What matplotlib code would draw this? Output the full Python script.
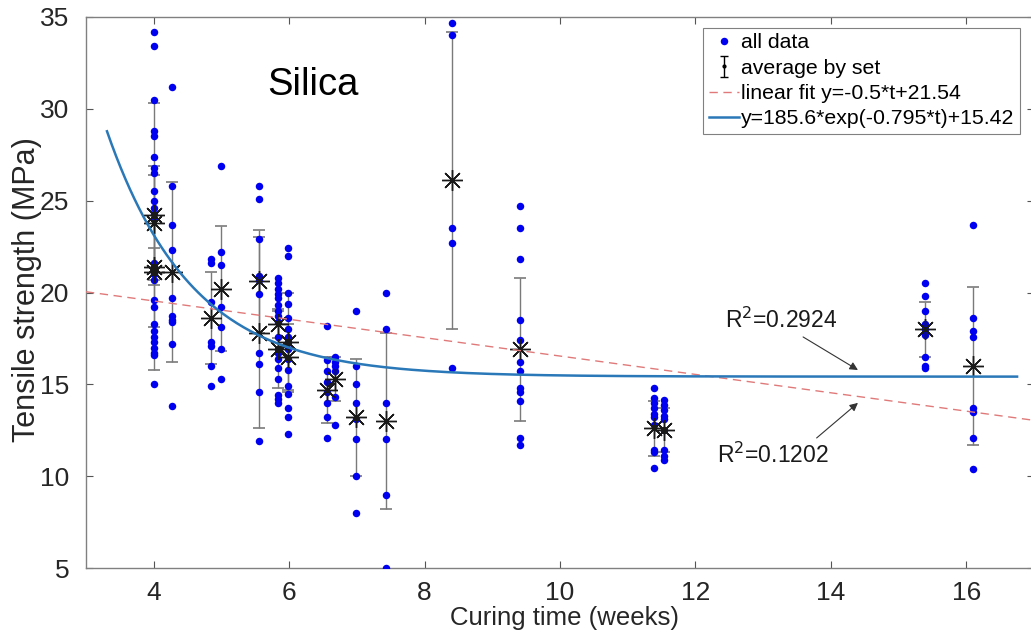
import numpy as np
import matplotlib
matplotlib.use("Agg")
import matplotlib.pyplot as plt
from matplotlib.lines import Line2D

plt.rcParams['font.family'] = ['Liberation Sans', 'DejaVu Sans']

# ---------------- data ----------------
# curing time (weeks) of each measured set and the individual strengths (MPa)
group_weeks = [4.0, 4.27, 4.84, 4.99, 5.55, 5.83, 5.98, 6.56, 6.67, 6.98,
               7.43, 8.40, 9.41, 11.39, 11.53, 15.39, 16.10]
group_values = [
    [34.2, 33.4, 30.5, 28.8, 28.5, 27.4, 26.8, 26.5, 25.5, 25.0, 24.6, 24.3, 24.0,
     21.6, 21.4, 21.2, 21.0, 20.7, 19.6, 19.2, 18.3, 17.9, 17.6, 17.3, 17.0, 16.7, 16.6, 15.0],
    [31.2, 25.8, 23.7, 22.3, 19.7, 18.7, 18.5, 18.4, 17.2, 13.8],
    [21.8, 21.6, 19.5, 17.3, 17.1, 16.0, 14.9],
    [26.9, 22.2, 21.5, 19.2, 18.1, 16.9, 15.3],
    [25.8, 25.1, 22.9, 20.9, 20.7, 19.9, 16.7, 16.1, 14.6, 11.9],
    [20.8, 20.5, 20.2, 19.9, 19.7, 19.3, 19.0, 18.7, 18.4, 17.6, 16.9, 16.7, 16.4,
     15.9, 15.3, 14.4, 14.2, 14.0],
    [22.4, 22.0, 20.0, 19.4, 18.6, 18.0, 17.6, 17.3, 16.9, 16.4, 15.8, 14.9, 14.5,
     13.7, 13.2, 12.3],
    [18.2, 16.3, 15.7, 15.1, 14.6, 14.0, 13.2, 12.1],
    [16.5, 16.2, 16.0, 15.7, 14.3, 12.8],
    [19.0, 16.0, 15.0, 14.0, 13.1, 12.0, 10.0, 8.0],
    [20.0, 18.0, 14.0, 12.0, 9.0, 5.0],
    [34.7, 34.0, 23.5, 22.7, 15.9],
    [24.7, 23.5, 21.8, 18.5, 17.4, 16.2, 15.7, 14.8, 14.6, 14.1, 12.1, 11.7],
    [14.8, 14.25, 14.0, 13.7, 13.4, 13.2, 12.8, 11.4, 11.3, 10.45],
    [14.15, 13.9, 13.6, 13.3, 13.1, 12.5, 11.4, 11.1, 10.9],
    [20.5, 19.8, 19.0, 18.3, 18.0, 17.7, 16.5, 16.0, 15.9],
    [23.7, 18.6, 17.9, 17.6, 13.7, 13.5, 12.1, 10.4],
]

# averages by set (week, mean, error)
avg_weeks = [4.0, 4.0, 4.0, 4.0, 4.27, 4.84, 4.99, 5.55, 5.55, 5.83, 5.83, 5.98, 5.98,
             6.56, 6.67, 6.98, 7.43, 8.40, 9.41, 11.39, 11.53, 15.39, 16.10]
avg_means = [24.2, 23.8, 21.4, 21.1, 21.1, 18.6, 20.2, 20.6, 17.8, 18.3, 16.9, 17.3, 16.5,
             14.7, 15.3, 13.2, 13.0, 26.1, 16.9, 12.6, 12.5, 18.0, 16.0]
avg_errs = [6.1, 3.1, 1.0, 5.3, 4.9, 2.5, 3.4, 2.8, 5.2, 0.8, 2.1, 2.7, 1.8,
            1.8, 1.2, 3.2, 4.8, 8.1, 3.9, 1.5, 1.2, 1.5, 4.3]

# fits
lin_a, lin_b = -0.5, 21.54
exp_A, exp_k, exp_c = 185.6, 0.795, 15.42
r2_exp, r2_lin = 0.2924, 0.1202

# ---------------- figure ----------------
W, H = 1031, 638
fig = plt.figure(figsize=(W / 100, H / 100), dpi=100)
ax = fig.add_axes([86 / W, 70 / H, 948 / W, 551 / H])

xs = np.concatenate([np.full(len(v), w) for w, v in zip(group_weeks, group_values)])
ys = np.concatenate([np.array(v) for v in group_values])

# error bars (grey bars, black caps)
eb = ax.errorbar(avg_weeks, avg_means, yerr=avg_errs, fmt='none', ecolor='#7a7a7a',
                 elinewidth=1.0, capsize=4, capthick=1.2, zorder=2)
for cl in eb[1]:
    cl.set_color('#222222')

ax.plot(xs, ys, 'o', color='#0000f0', markersize=5.4, markeredgewidth=0, zorder=3)
ax.plot(avg_weeks, avg_means, linestyle='none', marker=(8, 2, 0), markersize=15,
        markeredgecolor='#1a1a1a', markeredgewidth=1.0, zorder=4)

t_lin = np.linspace(3, 17, 200)
ax.plot(t_lin, lin_a * t_lin + lin_b, color='#e07a7a', lw=1.0, dashes=(6, 4), zorder=5)
t_exp = np.linspace(3.31, 16.75, 400)
ax.plot(t_exp, exp_A * np.exp(-exp_k * t_exp) + exp_c, color='#2a78b8', lw=1.8, zorder=5)

ax.set_xlim(3, 17)
ax.set_ylim(5, 35)
ax.set_xticks([4, 6, 8, 10, 12, 14, 16])
ax.set_yticks([5, 10, 15, 20, 25, 30, 35])

for s in ax.spines.values():
    s.set_color('#808080')
    s.set_linewidth(1.0)
ax.tick_params(direction='in', top=True, right=True, length=5, width=0.8,
               color='#555555', labelsize=19, labelcolor='#262626')
ax.tick_params(axis='x', pad=9)
ax.tick_params(axis='y', pad=12)

ax.set_xlabel('Curing time (weeks)', fontsize=18.5, color='#262626')
ax.xaxis.set_label_coords(0.505, -0.069)
ax.set_ylabel('Tensile strength (MPa)', fontsize=22, color='#262626')
ax.yaxis.set_label_coords(-0.046, 0.505)

ax.text(5.68, 30.75, 'Silica', fontsize=27.5, ha='left', va='baseline', color='black')

ax.annotate('', xy=(14.40, 15.78), xytext=(13.59, 17.58),
            arrowprops=dict(arrowstyle='-|>', color='#333333', lw=0.8, mutation_scale=12,
                            shrinkA=0, shrinkB=0), zorder=6)
ax.annotate('', xy=(14.40, 13.99), xytext=(13.79, 12.08),
            arrowprops=dict(arrowstyle='-|>', color='#333333', lw=0.8, mutation_scale=12,
                            shrinkA=0, shrinkB=0), zorder=6)
ax.text(12.43, 18.07, r'R$^2$=%.4f' % r2_exp, fontsize=16.5,
        ha='left', va='baseline', color='#1a1a1a')
ax.text(12.32, 10.72, r'R$^2$=%.4f' % r2_lin, fontsize=16.5,
        ha='left', va='baseline', color='#1a1a1a')

# legend
h_data = Line2D([], [], linestyle='none', marker='o', color='#0000f0', markersize=5.4,
                markeredgewidth=0)
h_avg = ax.errorbar([np.nan], [np.nan], yerr=[1], fmt='.', color='black', markersize=4,
                    ecolor='black', elinewidth=1.0, capsize=3)
h_lin = Line2D([], [], color='#e07a7a', lw=1.0, dashes=(6, 4))
h_exp = Line2D([], [], color='#2a78b8', lw=1.8)
leg = ax.legend([h_data, h_avg, h_lin, h_exp],
                ['all data', 'average by set',
                 'linear fit y=%.1f*t+%.2f' % (lin_a, lin_b),
                 'y=%.1f*exp(-%.3f*t)+%.2f' % (exp_A, exp_k, exp_c)],
                loc='upper right', bbox_to_anchor=(0.985, 0.98),
                prop={'size': 15.3},
                labelspacing=0.3, handlelength=1.45, handletextpad=0.08,
                borderpad=0.25, borderaxespad=0, fancybox=False, framealpha=1,
                edgecolor='#808080')
leg.get_frame().set_linewidth(0.8)
leg.set_zorder(10)

fig.savefig('out.png', dpi=100)
